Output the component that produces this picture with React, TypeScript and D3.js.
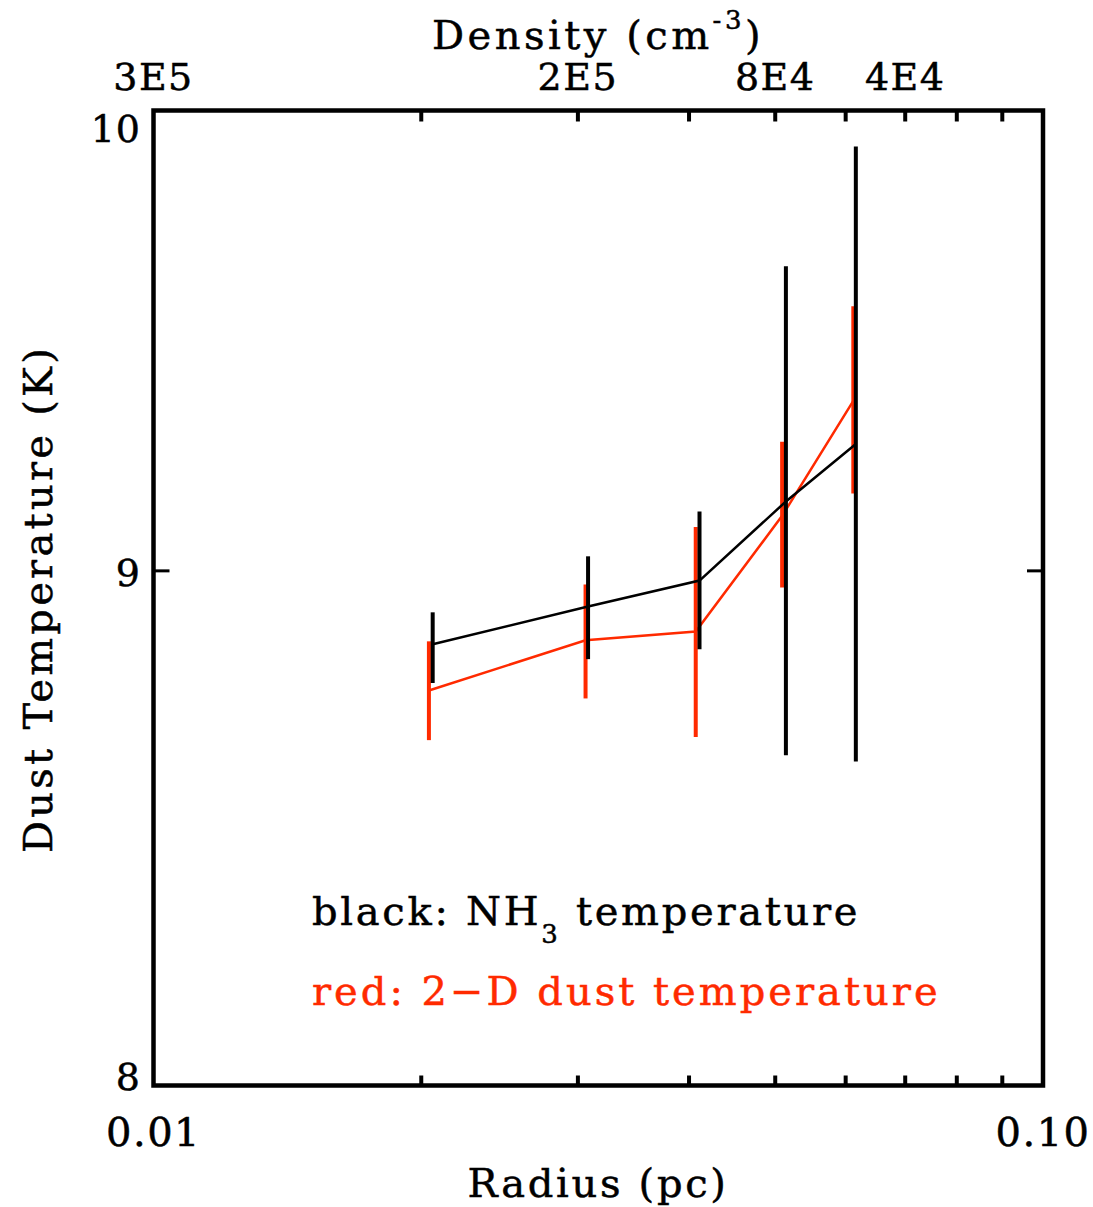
import React from "react";
import * as d3 from "d3";

// Radius (pc) of each point
const blackRadius = [0.0206, 0.0308, 0.0411, 0.0514, 0.0616];
const blackTemp = [8.85, 8.927, 8.98, 9.144, 9.265];
const blackLow = [8.772, 8.82, 8.84, 8.628, 8.616];
const blackHigh = [8.915, 9.03, 9.123, 9.65, 9.918];

const redRadius = [0.0204, 0.0306, 0.0407, 0.0509, 0.0612];
const redTemp = [8.757, 8.858, 8.876, 9.114, 9.357];
const redLow = [8.658, 8.741, 8.664, 8.966, 9.161];
const redHigh = [8.856, 8.972, 9.091, 9.27, 9.562];

const xMinorTicks = [0.02, 0.03, 0.04, 0.05, 0.06, 0.07, 0.08, 0.09];
const xTickLabels = ["0.01", "0.10"];
const xTickValues = [0.01, 0.1];
const yTickValues = [10, 9, 8];
const yTickLabels = ["10", "9", "8"];
const densityLabels = ["3E5", "2E5", "8E4", "4E4"];
const densityAtRadius = [0.01, 0.03, 0.05, 0.07];

const RED = "#ff2a00";
const FONT = "DejaVu Serif";

export default function App() {
  const left = 153.5, right = 1043, top = 110.5, bottom = 1085.5;
  const x = d3.scaleLog().domain([0.01, 0.1]).range([left, right]);
  const y = d3.scaleLog().domain([8, 10]).range([bottom, top]);

  const line = d3
    .line<[number, number]>()
    .x((d) => x(d[0]))
    .y((d) => y(d[1]));

  const blackPts = blackRadius.map((r, i) => [r, blackTemp[i]] as [number, number]);
  const redPts = redRadius.map((r, i) => [r, redTemp[i]] as [number, number]);

  const ts = (color: string) => ({
    fontFamily: FONT,
    fill: color,
    stroke: color,
    strokeWidth: 0.5,
  });

  return (
    <svg
      width={1093}
      height={1207}
      style={{ position: "absolute", left: 0, top: 0, background: "#fff" }}
    >
      {/* data */}
      <path d={line(redPts) || ""} fill="none" stroke={RED} strokeWidth={2.5} />
      {redRadius.map((r, i) => (
        <line key={"rb" + i} x1={x(r)} x2={x(r)} y1={y(redLow[i])} y2={y(redHigh[i])} stroke={RED} strokeWidth={4} />
      ))}
      <path d={line(blackPts) || ""} fill="none" stroke="#000" strokeWidth={2.5} />
      {blackRadius.map((r, i) => (
        <line key={"bb" + i} x1={x(r)} x2={x(r)} y1={y(blackLow[i])} y2={y(blackHigh[i])} stroke="#000" strokeWidth={4} />
      ))}

      {/* frame */}
      <rect x={left} y={top} width={right - left} height={bottom - top} fill="none" stroke="#000" strokeWidth={4.5} />
      {xMinorTicks.map((t) => (
        <g key={"xt" + t}>
          <line x1={x(t)} x2={x(t)} y1={bottom} y2={bottom - 10} stroke="#000" strokeWidth={4} />
          <line x1={x(t)} x2={x(t)} y1={top} y2={top + 11} stroke="#000" strokeWidth={4} />
        </g>
      ))}
      <line x1={left} x2={left + 16} y1={y(9)} y2={y(9)} stroke="#000" strokeWidth={3} />
      <line x1={right} x2={right - 16} y1={y(9)} y2={y(9)} stroke="#000" strokeWidth={3} />

      {/* x tick labels */}
      {xTickValues.map((v, i) => (
        <text key={"xl" + i} x={x(v)} y={1146} textAnchor="middle" fontSize={40} style={ts("#000")} letterSpacing={1.5}>
          {xTickLabels[i]}
        </text>
      ))}
      {/* y tick labels */}
      {yTickValues.map((v, i) => (
        <text
          key={"yl" + i}
          x={141}
          y={y(v) + (i === 0 ? 31 : i === 2 ? 4 : 15)}
          textAnchor="end"
          fontSize={38}
          style={ts("#000")}
          letterSpacing={1}
        >
          {yTickLabels[i]}
        </text>
      ))}
      {/* top density labels */}
      {densityAtRadius.map((r, i) => (
        <text key={"dl" + i} x={x(r)} y={90} textAnchor="middle" fontSize={38} style={ts("#000")} letterSpacing={1.5}>
          {densityLabels[i]}
        </text>
      ))}

      {/* axis titles */}
      <text x={598} y={49} textAnchor="middle" fontSize={40} style={ts("#000")} letterSpacing={3.5}>
        Density (cm
        <tspan dy={-20} fontSize={26}>-3</tspan>
        <tspan dy={20}>)</tspan>
      </text>
      <text x={598} y={1197} textAnchor="middle" fontSize={40} style={ts("#000")} letterSpacing={2.7}>
        Radius (pc)
      </text>
      <text
        transform={`translate(52,${599}) rotate(-90)`}
        textAnchor="middle"
        fontSize={40}
        style={ts("#000")}
        letterSpacing={3.25}
      >
        Dust Temperature (K)
      </text>

      {/* legend */}
      <text x={312} y={925} fontSize={40} style={ts("#000")} letterSpacing={2.7}>
        black: NH
        <tspan dy={18} fontSize={26}>3</tspan>
        <tspan dy={-18}> temperature</tspan>
      </text>
      <text x={312} y={1005} fontSize={40} style={ts(RED)} letterSpacing={3}>
        red: 2−D dust temperature
      </text>
    </svg>
  );
}
